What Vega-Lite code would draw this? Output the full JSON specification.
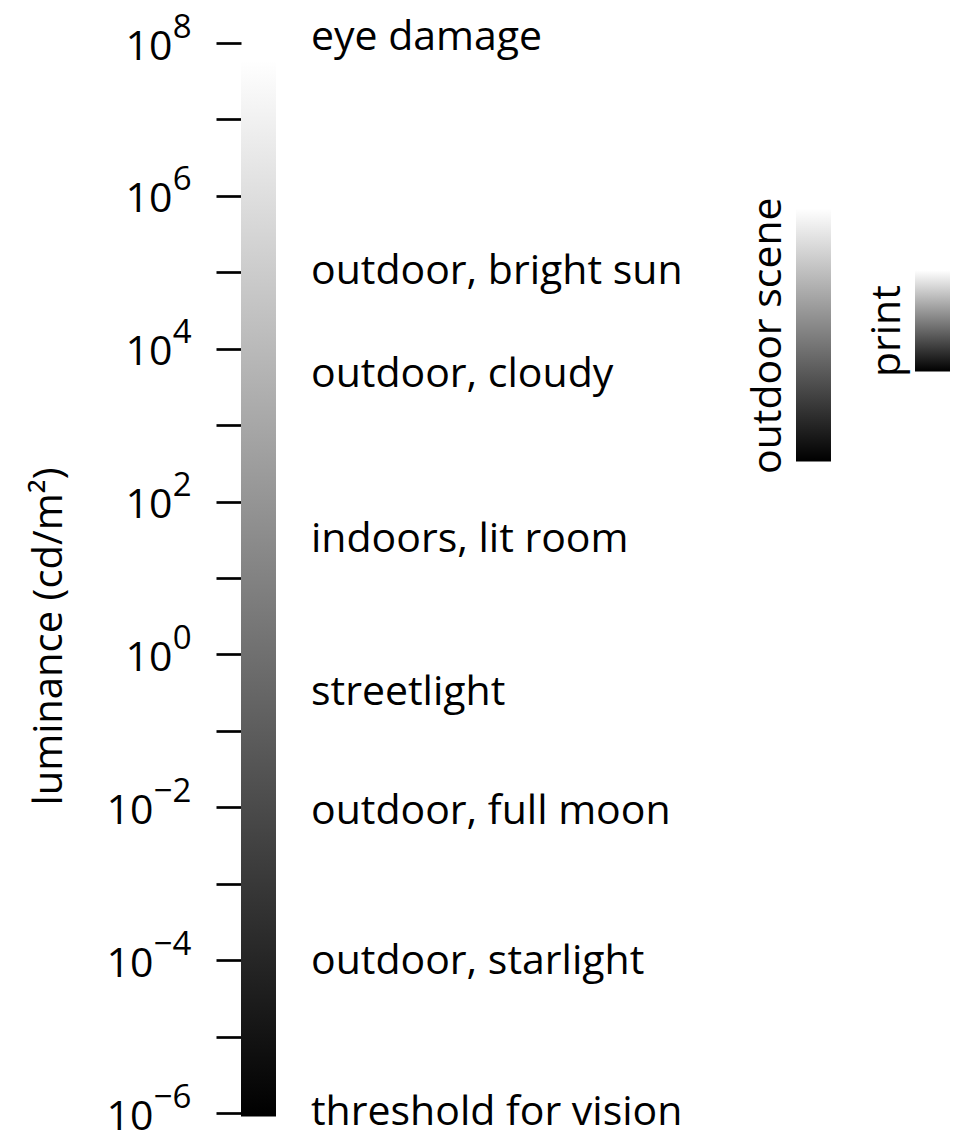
{
  "$schema": "https://vega.github.io/schema/vega-lite/v6.json",
  "background": "white",
  "autosize": {"type": "none"},
  "padding": {"left": 241, "top": 43, "right": 0, "bottom": 32},
  "width": 721,
  "height": 1070,
  "config": {
    "view": {"stroke": null},
    "font": "Open Sans",
    "axis": {"labelColor": "black", "tickColor": "black", "titleColor": "black", "grid": false, "domain": false}
  },
  "datasets": {
    "luminance": [{"name": "luminance", "lo": 9e-7, "hi": 5.9e7}],
    "situations": [
      {"label": "eye damage", "at": 1.15e8},
      {"label": "outdoor, bright sun", "at": 1e5},
      {"label": "outdoor, cloudy", "at": 4500},
      {"label": "indoors, lit room", "at": 31},
      {"label": "streetlight", "at": 0.31},
      {"label": "outdoor, full moon", "at": 0.0087},
      {"label": "outdoor, starlight", "at": 9.5e-5},
      {"label": "threshold for vision", "at": 1e-6}
    ],
    "ranges": [
      {"name": "outdoor scene", "lo": 335, "hi": 685000, "mid": 14800},
      {"name": "print", "lo": 5050, "hi": 106000, "mid": 17000}
    ]
  },
  "layer": [
    {
      "layer": [
        {
          "data": {"name": "luminance"},
          "mark": {
            "type": "rect",
            "stroke": null,
            "color": {"gradient": "linear", "x1": 0, "y1": 1, "x2": 0, "y2": 0,
              "stops": [{"offset": 0, "color": "#000000"}, {"offset": 1, "color": "#ffffff"}]}
          },
          "encoding": {
            "x": {"field": "name", "type": "nominal", "axis": null,
              "scale": {"type": "band", "range": [0, 35], "paddingInner": 0, "paddingOuter": 0}},
            "y": {
              "field": "lo", "type": "quantitative",
              "scale": {"type": "log", "domain": [1e-6, 1e8], "nice": false},
              "axis": {
                "orient": "left",
                "values": [1e-6, 1e-5, 1e-4, 1e-3, 1e-2, 1e-1, 1, 10, 100, 1000, 10000, 100000, 1000000, 10000000, 100000000],
                "domain": false,
                "ticks": true, "tickSize": 25, "tickWidth": 2.7, "tickColor": "black",
                "labelExpr": "round(log(datum.value)/LN10) % 2 === 0 ? '10' : ''",
                "labelFont": "Open Sans", "labelFontSize": 41, "labelColor": "black",
                "labelBaseline": "alphabetic", "labelOffset": 16, "labelAlign": "right",
                "labelPadding": {"condition": {"test": "datum.value < 0.5", "value": 63}, "value": 44},
                "labelOverlap": false, "labelFlush": false,
                "title": "luminance (cd/m²)",
                "titleFont": "Open Sans", "titleFontSize": 40, "titleFontWeight": "normal", "titleColor": "black",
                "titleAngle": 270, "titleAlign": "center", "titleBaseline": "alphabetic",
                "titleX": -180, "titleY": 593
              }
            },
            "y2": {"field": "hi"}
          }
        },
        {
          "data": {"name": "situations"},
          "mark": {"type": "text", "align": "left", "baseline": "middle", "dx": 35, "fontSize": 41, "font": "Open Sans", "color": "black"},
          "encoding": {
            "x": {"datum": "luminance", "type": "nominal", "bandPosition": 1},
            "y": {
              "field": "at", "type": "quantitative",
              "scale": {"type": "log", "domain": [1e-6, 1e8], "nice": false},
              "axis": {
                "orient": "left",
                "values": [1e-6, 1e-5, 1e-4, 1e-3, 1e-2, 1e-1, 1, 10, 100, 1000, 10000, 100000, 1000000, 10000000, 100000000],
                "domain": false,
                "ticks": true, "tickSize": 25, "tickOpacity": 0,
                "labelExpr": "round(log(datum.value)/LN10) % 2 === 0 ? (datum.value < 0.5 ? '−' + round(-log(datum.value)/LN10) : '' + round(log(datum.value)/LN10)) : ''",
                "labelFont": "Open Sans", "labelFontSize": 33, "labelColor": "black",
                "labelBaseline": "alphabetic", "labelOffset": -6, "labelAlign": "right",
                "labelPadding": 25,
                "labelOverlap": false, "labelFlush": false,
                "title": null
              }
            },
            "text": {"field": "label"}
          }
        }
      ],
      "resolve": {"axis": {"y": "independent"}}
    },
    {
      "data": {"name": "ranges"},
      "encoding": {
        "x": {"field": "name", "type": "nominal", "sort": null, "axis": null,
          "scale": {"type": "band", "range": [555, 709], "paddingInner": 0.706, "paddingOuter": 0}}
      },
      "layer": [
        {
          "mark": {
            "type": "bar",
            "stroke": null,
            "color": {"gradient": "linear", "x1": 0, "y1": 1, "x2": 0, "y2": 0,
              "stops": [{"offset": 0, "color": "#000000"}, {"offset": 1, "color": "#ffffff"}]}
          },
          "encoding": {
            "y": {"field": "lo", "type": "quantitative",
              "scale": {"type": "log", "domain": [1e-6, 1e8], "nice": false}, "axis": null},
            "y2": {"field": "hi"}
          }
        },
        {
          "mark": {"type": "text", "angle": 270, "align": "center", "baseline": "alphabetic", "dy": -32.5, "fontSize": 41, "font": "Open Sans", "color": "black"},
          "encoding": {
            "y": {"field": "mid", "type": "quantitative",
              "scale": {"type": "log", "domain": [1e-6, 1e8], "nice": false}, "axis": null},
            "text": {"field": "name"}
          }
        }
      ]
    }
  ],
  "resolve": {"scale": {"x": "independent"}, "axis": {"y": "independent"}}
}
